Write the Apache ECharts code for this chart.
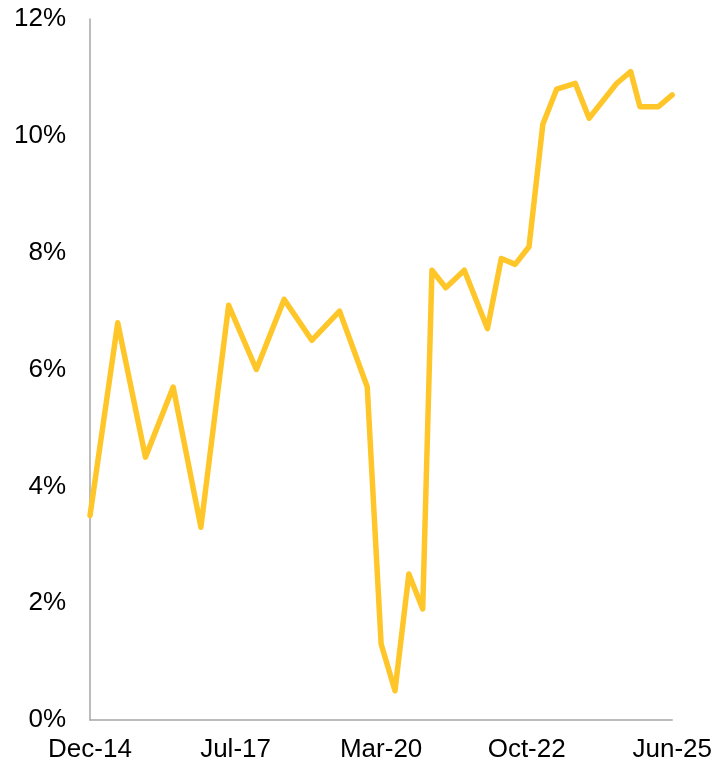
<!DOCTYPE html>
<html>
<head>
<meta charset="utf-8">
<script src="https://cdn.jsdelivr.net/npm/echarts@6/dist/echarts.min.js"></script>
<style>
  html, body { margin: 0; padding: 0; background: #fff; }
  #chart { width: 715px; height: 765px; }
</style>
</head>
<body>
<div id="chart"></div>
<script>
  // observation dates (year-month) and values in %
  var dates = [
    '2014-12', '2015-06', '2015-12', '2016-06', '2016-12', '2017-06', '2017-12',
    '2018-06', '2018-12', '2019-06', '2019-12', '2020-03', '2020-06', '2020-09',
    '2020-12', '2021-02', '2021-05', '2021-09', '2021-11', '2022-02', '2022-05',
    '2022-08', '2022-11', '2023-02', '2023-05', '2023-09', '2023-12', '2024-06',
    '2024-09', '2024-11', '2025-03', '2025-06'
  ];
  var values = [
    3.5, 6.8, 4.5, 5.7, 3.3, 7.1, 6.0,
    7.2, 6.5, 7.0, 5.7, 1.3, 0.5, 2.5,
    1.9, 7.7, 7.4, 7.7, 7.3, 6.7, 7.9,
    7.8, 8.1, 10.2, 10.8, 10.9, 10.3, 10.9,
    11.1, 10.5, 10.5, 10.7
  ];
  var xLabels = ['Dec-14', 'Jul-17', 'Mar-20', 'Oct-22', 'Jun-25'];

  // months since Dec-14
  function monthIndex(d) {
    var p = d.split('-');
    return (parseInt(p[0], 10) - 2014) * 12 + parseInt(p[1], 10) - 12;
  }
  var seriesData = dates.map(function (d, i) {
    return [monthIndex(d), values[i]];
  });

  var myChart = echarts.init(document.getElementById('chart'));
  var font = 'Liberation Sans, Arial, sans-serif';
  var option = {
    animation: false,
    grid: { left: 90, right: 42, top: 19, bottom: 45 },
    xAxis: {
      type: 'value',
      min: 0,
      max: 126,
      interval: 31.5,
      splitLine: { show: false },
      axisTick: { show: false },
      axisLine: { show: true, lineStyle: { color: '#A6A6A6', width: 1.5 } },
      axisLabel: {
        color: '#000',
        fontSize: 26,
        fontFamily: font,
        margin: 17,
        formatter: function (v) {
          return xLabels[Math.round(v / 31.5)] || '';
        }
      }
    },
    yAxis: {
      type: 'value',
      min: 0,
      max: 12,
      interval: 2,
      splitLine: { show: false },
      axisTick: { show: false },
      axisLine: { show: true, lineStyle: { color: '#A6A6A6', width: 1.5 } },
      axisLabel: {
        color: '#000',
        fontSize: 26,
        fontFamily: font,
        margin: 24,
        formatter: '{value}%'
      }
    },
    series: [{
      type: 'line',
      data: seriesData,
      showSymbol: false,
      lineStyle: { color: '#FFC629', width: 5.5, join: 'round', cap: 'round' }
    }]
  };
  myChart.setOption(option);
</script>
</body>
</html>
